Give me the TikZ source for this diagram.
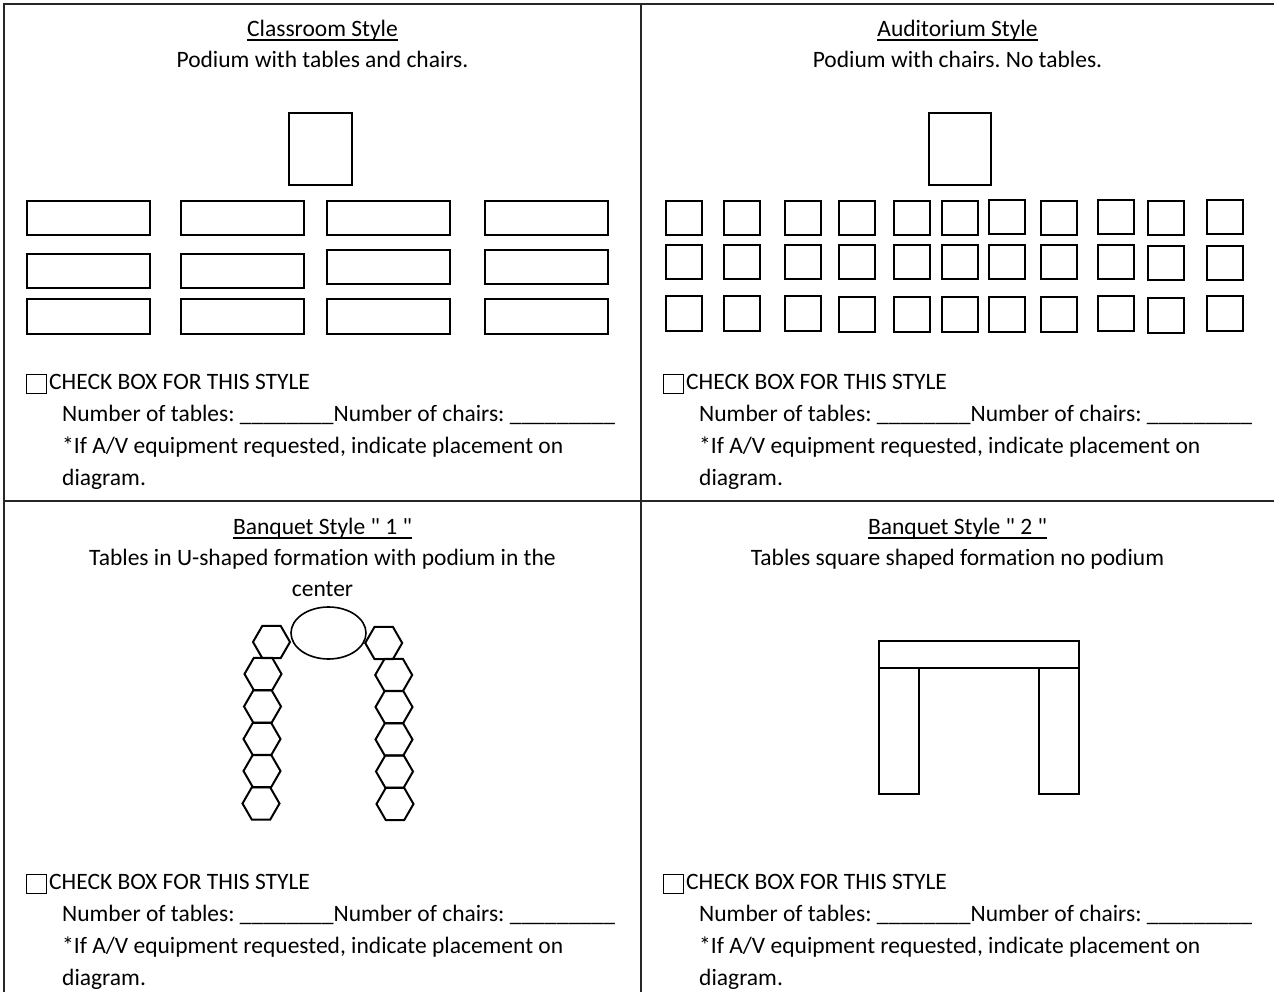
\documentclass[tikz,border=0pt]{standalone}
\usepackage{fontspec}
\newfontfamily\plainfont{Carlito}[Ligatures=NoCommon]
\frenchspacing
\usetikzlibrary{shapes.geometric}
\newcommand\chkblock[3]{%
  \node[chk] (#3box) at (36+#1,383.5+#2) {};
  \node[txt,anchor=base west] (#3a) at (49+#1,389+#2) {CHECK BOX FOR THIS STYLE};
  \node[txt,anchor=base west] (#3b) at (62+#1,421+#2) {Number of tables: \_\_\_\_\_\_\_\_Number of chairs: \_\_\_\_\_\_\_\_\_};
  \node[txt,anchor=base west] (#3c) at (62+#1,453+#2) {*If A/V equipment requested, indicate placement on};
  \node[txt,anchor=base west] (#3d) at (62+#1,485+#2) {diagram.};
}
\begin{document}
\begin{tikzpicture}[x=1pt,y=-1pt,
  frame/.style={line width=2pt, draw=black!85},
  tbl/.style={line width=2pt},
  chair/.style={line width=2pt},
  hex/.style={draw, regular polygon, regular polygon sides=6, minimum size=37pt, inner sep=0pt, line width=2pt},
  chk/.style={draw, line width=1pt, minimum width=20pt, minimum height=19pt, inner sep=0pt},
  txt/.style={inner sep=0pt, font=\plainfont\fontsize{23.5}{31}\selectfont},
  ul/.style={line width=1.4pt}]
\useasboundingbox (0,0) rectangle (1274,992);
% frame
\draw[frame] (4,992) -- (4,4) -- (1274,4);
\draw[frame] (641,4) -- (641,992);
\draw[frame] (4,501) -- (1274,501);

% ---- Classroom
\node[txt,anchor=base] (h1) at (322.5,36.5) {Classroom Style};
\draw[ul] ([yshift=-3.5pt]h1.base west) -- ([yshift=-3.5pt]h1.base east);
\node[txt,anchor=base] (s1) at (322.5,67.5) {Podium with tables and chairs.};
\draw[tbl] (289,113) rectangle (352,185);
\foreach \xa/\xb in {27/150,181/304,327/450,485/608}{
  \draw[tbl] (\xa,201) rectangle (\xb,235);
  \draw[tbl] (\xa,299) rectangle (\xb,334);
}
\draw[tbl] (27,254) rectangle (150,288);
\draw[tbl] (181,254) rectangle (304,288);
\draw[tbl] (327,250) rectangle (450,284);
\draw[tbl] (485,250) rectangle (608,284);
\chkblock{0}{0}{q1}

% ---- Auditorium
\node[txt,anchor=base] (h2) at (957.5,36.5) {Auditorium Style};
\draw[ul] ([yshift=-3.5pt]h2.base west) -- ([yshift=-3.5pt]h2.base east);
\node[txt,anchor=base] (s2) at (957.5,67.5) {Podium with chairs. No tables.};
\draw[tbl] (929,113) rectangle (991,185);
\foreach \xa/\ya/\yb/\yc in {666/201/245/296,724/201/245/296,785/201/245/296,839/201/245/297,894/201/245/297,942/201/245/297,989/200/245/297,1041/201/245/297,1098/200/245/296,1148/201/246/298,1207/200/246/296}{
  \draw[chair] (\xa,\ya) rectangle ++(36,34.5);
  \draw[chair] (\xa,\yb) rectangle ++(36,34.5);
  \draw[chair] (\xa,\yc) rectangle ++(36,34.5);
}
\chkblock{637}{0}{q2}

% ---- Banquet 1
\node[txt,anchor=base] (h3) at (322.5,534.5) {Banquet Style " 1 "};
\draw[ul] ([yshift=-3.5pt]h3.base west) -- ([yshift=-3.5pt]h3.base east);
\node[txt,anchor=base] (s3) at (322.5,565) {Tables in U-shaped formation with podium in the};
\node[txt,anchor=base] (s3b) at (322.5,596) {center};
\node[draw, ellipse, line width=1.6pt, minimum width=75pt, minimum height=52pt, inner sep=0pt] (pod) at (328.5,633) {};
\node[hex] (L0) at (271.5,642) {};
\node[hex] (L1) at (263,674) {};
\node[hex] (L2) at (262.5,706.5) {};
\node[hex] (L3) at (262,739) {};
\node[hex] (L4) at (262,771) {};
\node[hex] (L5) at (261,803.5) {};
\node[hex] (R0) at (383.7,643) {};
\node[hex] (R1) at (393.7,675) {};
\node[hex] (R2) at (394,707) {};
\node[hex] (R3) at (394,739.5) {};
\node[hex] (R4) at (394.5,771.5) {};
\node[hex] (R5) at (395,804) {};
\chkblock{0}{500}{q3}

% ---- Banquet 2
\node[txt,anchor=base] (h4) at (957.5,534.5) {Banquet Style " 2 "};
\draw[ul] ([yshift=-3.5pt]h4.base west) -- ([yshift=-3.5pt]h4.base east);
\node[txt,anchor=base] (s4) at (957.5,565) {Tables square shaped formation no podium};
\draw[tbl] (879,641) rectangle (1079,668);
\draw[tbl] (879,668) rectangle (919,794);
\draw[tbl] (1039,668) rectangle (1079,794);
\chkblock{637}{500}{q4}
\end{tikzpicture}
\end{document}
